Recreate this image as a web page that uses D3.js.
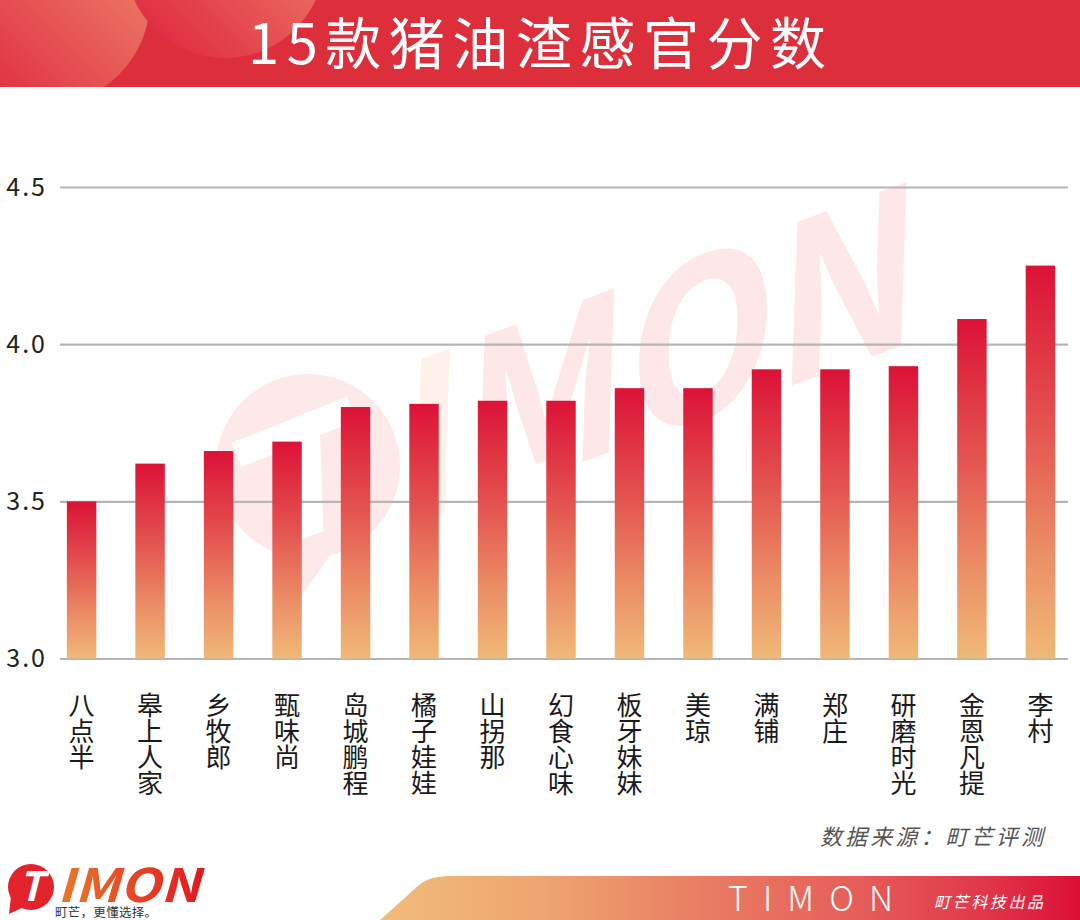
<!DOCTYPE html>
<html>
<head>
<meta charset="utf-8">
<script src="https://cdn.jsdelivr.net/npm/d3@7"></script>
<style>
  html, body { margin: 0; padding: 0; background: #fff; }
  svg { display: block; }
  text { font-family: "Noto Sans CJK SC", "Noto Sans", sans-serif; }
</style>
</head>
<body>
<svg id="chart" width="1080" height="920"></svg>
<script>
const brands = ["八点半", "皋上人家", "乡牧郎", "甄味尚", "岛城鹏程", "橘子娃娃", "山拐那", "幻食心味",
  "板牙妹妹", "美琼", "满铺", "郑庄", "研磨时光", "金恩凡提", "李村"];
const scores = [3.50, 3.62, 3.66, 3.69, 3.80, 3.81, 3.82, 3.82, 3.86, 3.86, 3.92, 3.92, 3.93, 4.08, 4.25];
const yTicks = [3.0, 3.5, 4.0, 4.5];
const chartTitle = "15款猪油渣感官分数";
const sourceNote = "数据来源：町芒评测";
const brandName = "TIMON";
const tagline = "町芒，更懂选择。";
const credit = "町芒科技出品";

const svg = d3.select("#chart");
const defs = svg.append("defs");

// gradients
const barGrad = defs.append("linearGradient").attr("id", "barGrad")
  .attr("x1", 0).attr("y1", 0).attr("x2", 0).attr("y2", 1);
[[0, "#dc1237"], [0.42, "#e45650"], [0.72, "#eb8c65"], [1, "#f0b977"]].forEach(([o, c]) =>
  barGrad.append("stop").attr("offset", o).attr("stop-color", c));

const circGrad = defs.append("linearGradient").attr("id", "circGrad")
  .attr("x1", 0).attr("y1", 1).attr("x2", 1).attr("y2", 0);
circGrad.append("stop").attr("offset", 0).attr("stop-color", "#df1f3b");
circGrad.append("stop").attr("offset", 1).attr("stop-color", "#ee9270");

const bannerGrad = defs.append("linearGradient").attr("id", "bannerGrad")
  .attr("gradientUnits", "userSpaceOnUse").attr("x1", 380).attr("y1", 0).attr("x2", 1080).attr("y2", 0);
[[0, "#f1bd7a"], [0.24, "#eea46f"], [0.46, "#e97d63"], [0.67, "#e6605a"], [0.86, "#e1384a"], [1, "#dc0f34"]]
  .forEach(([o, c]) => bannerGrad.append("stop").attr("offset", o).attr("stop-color", c));

const logoGrad = defs.append("linearGradient").attr("id", "logoGrad")
  .attr("x1", 0).attr("y1", 0).attr("x2", 1).attr("y2", 0);
logoGrad.append("stop").attr("offset", 0).attr("stop-color", "#ea7a2c");
logoGrad.append("stop").attr("offset", 1).attr("stop-color", "#e2161f");

defs.append("clipPath").attr("id", "headClip")
  .append("rect").attr("width", 1080).attr("height", 87);

// header band
const head = svg.append("g").attr("clip-path", "url(#headClip)");
head.append("rect").attr("width", 1080).attr("height", 87).attr("fill", "#dd2e3b");
head.append("circle").attr("cx", 45).attr("cy", 0).attr("r", 105).attr("fill", "url(#circGrad)");
head.append("circle").attr("cx", 225).attr("cy", -42).attr("r", 100).attr("fill", "url(#circGrad)");
svg.append("text").attr("x", 248).attr("y", 64)
  .attr("font-size", 56).attr("fill", "#fff")
  .attr("textLength", 578).attr("lengthAdjust", "spacing")
  .text(chartTitle);

// faint logo watermark behind the bars
const wm = svg.append("g").attr("class", "watermark");
wm.append("circle").attr("cx", 308).attr("cy", 466).attr("r", 92).attr("fill", "#fde8ea");
wm.append("path").attr("d", "M262,535 L300,598 L335,548 Z").attr("fill", "#fde8ea");
const wmT = wm.append("g").attr("transform", "translate(308,466) rotate(-22)");
wmT.append("rect").attr("x", -62).attr("y", -50).attr("width", 124).attr("height", 26).attr("fill", "#fff");
wmT.append("rect").attr("x", -14).attr("y", -50).attr("width", 28).attr("height", 116)
  .attr("transform", "skewX(-20)").attr("fill", "#fff");
const wmText = wm.append("text").attr("transform", "translate(398,529) rotate(-20) skewX(-22)")
  .attr("font-family", "Liberation Sans, Arial, sans-serif")
  .attr("font-weight", "bold").attr("font-size", 205);
wmText.append("tspan").attr("fill", "#fef1ea").text("I");
wmText.append("tspan").attr("fill", "#fde7e9").text("MON");

// scales
const x = d3.scaleBand().domain(brands).range([47, 1075]).paddingInner(0.57).paddingOuter(0.29);
const y = d3.scaleLinear().domain([3, 4.5]).range([658.5, 187]);

// grid + y labels
const yAxis = svg.append("g").attr("transform", "translate(60,0)")
  .call(d3.axisLeft(y).tickValues(yTicks).tickFormat(d3.format(".1f"))
    .tickSizeInner(-1008).tickSizeOuter(0).tickPadding(13));
yAxis.select(".domain").remove();
yAxis.selectAll(".tick line").attr("stroke", "#b5b5b5").attr("stroke-width", 2.2);
yAxis.selectAll(".tick text")
  .attr("font-family", "Liberation Sans, Arial, sans-serif")
  .attr("font-size", 25).attr("fill", "#222").attr("letter-spacing", 2);

// bars
svg.append("g").selectAll("rect").data(scores).join("rect")
  .attr("x", (d, i) => x(brands[i]))
  .attr("width", x.bandwidth())
  .attr("y", d => y(d))
  .attr("height", d => y(3) - y(d))
  .attr("fill", "url(#barGrad)");

// x labels, stacked vertically
const labels = svg.append("g").selectAll("text").data(brands).join("text")
  .attr("font-size", 26).attr("fill", "#1a1a1a").attr("text-anchor", "middle");
labels.each(function (name) {
  const cx = x(name) + x.bandwidth() / 2;
  const t = d3.select(this);
  Array.from(name).forEach((ch, k) => {
    t.append("tspan").attr("x", cx).attr("y", 715 + k * 26).text(ch);
  });
});

// source note
svg.append("text").attr("x", 820).attr("y", 845)
  .attr("font-size", 22).attr("font-style", "italic").attr("fill", "#555")
  .attr("textLength", 223).attr("lengthAdjust", "spacing")
  .text(sourceNote);

// footer logo
const logo = svg.append("g");
logo.append("circle").attr("cx", 31).attr("cy", 887).attr("r", 23).attr("fill", "#e3232b");
logo.append("path").attr("d", "M11,896 L9,914 L26,906 Z").attr("fill", "#e3232b");
logo.append("text").attr("x", 31).attr("y", 901).attr("text-anchor", "middle")
  .attr("font-family", "Liberation Sans, Arial, sans-serif")
  .attr("font-weight", "bold").attr("font-style", "italic").attr("font-size", 40)
  .attr("fill", "#fff").text("T");
logo.append("text").attr("x", 57).attr("y", 902)
  .attr("font-family", "DejaVu Sans, sans-serif")
  .attr("font-weight", "bold").attr("font-style", "italic").attr("font-size", 46)
  .attr("textLength", 143).attr("lengthAdjust", "spacingAndGlyphs")
  .attr("fill", "url(#logoGrad)").text(brandName.slice(1));
logo.append("text").attr("x", 55).attr("y", 916.5)
  .attr("font-size", 12.5).attr("fill", "#333")
  .attr("textLength", 102).attr("lengthAdjust", "spacing")
  .text(tagline);

// footer banner
svg.append("path")
  .attr("d", "M380,920 L418,886 Q428,876 450,876 L1080,876 L1080,920 Z")
  .attr("fill", "url(#bannerGrad)");
svg.append("text").attr("x", 728).attr("y", 911)
  .attr("font-family", "Roboto, Liberation Sans, sans-serif").attr("font-weight", 300)
  .attr("font-size", 34).attr("fill", "#fff")
  .attr("textLength", 165).attr("lengthAdjust", "spacing")
  .text(brandName);
svg.append("text").attr("x", 934).attr("y", 908)
  .attr("font-size", 16).attr("font-style", "italic").attr("fill", "#fff")
  .attr("textLength", 109).attr("lengthAdjust", "spacing")
  .text(credit);
</script>
</body>
</html>
